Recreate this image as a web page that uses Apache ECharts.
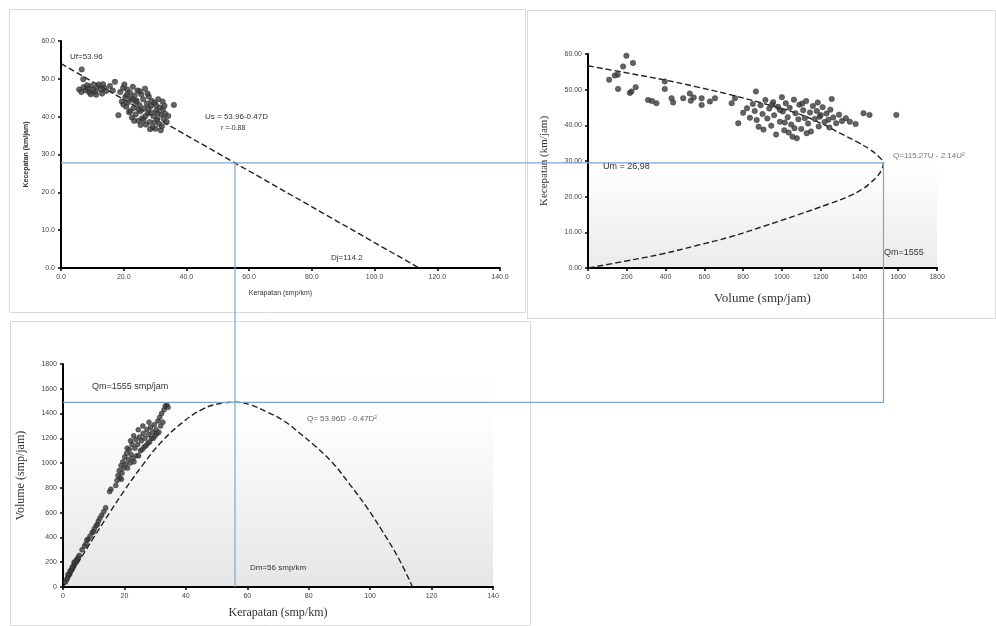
<!DOCTYPE html>
<html><head><meta charset="utf-8">
<script src="https://cdn.jsdelivr.net/npm/echarts@6/dist/echarts.min.js"></script>
<style>html,body{margin:0;padding:0;background:#fff}#c{width:996px;height:626px}</style>
</head><body><div id="c"></div><script>
// ---- Panel 1: Kerapatan (D) vs Kecepatan (U) ----
const p1Points = [
 [6.6,52.5],[7.1,49.9],[5.8,47.2],[6.5,46.5],[7.2,47.8],[8.0,46.9],[8.6,47.5],[9.1,46.4],[9.8,48.2],[10.3,47.1],
 [10.9,46.6],[11.5,47.9],[12.0,48.5],[12.6,47.2],[13.1,46.1],[13.8,47.6],[14.4,46.8],[15.6,48.1],[17.2,49.2],[16.5,46.9],
 [8.3,48.3],[11.2,45.8],[13.4,48.6],[9.5,45.9],
 [18.3,40.4],[18.9,46.5],[19.4,44.0],[19.8,47.6],[20.2,48.5],[20.5,45.2],[20.8,42.6],[21.1,47.2],[21.4,43.8],[21.7,41.2],
 [22.0,46.4],[22.3,44.9],[22.6,39.8],[22.9,47.9],[23.2,42.3],[23.5,45.6],[23.8,40.6],[24.1,44.2],[24.4,46.9],[24.7,38.9],
 [25.0,43.1],[25.3,41.4],[25.6,45.9],[25.9,39.6],[26.2,44.6],[26.5,42.2],[26.8,47.4],[27.1,37.9],[27.4,43.5],[27.7,40.9],
 [28.0,45.3],[28.3,38.6],[28.6,42.8],[28.9,44.2],[29.2,37.2],[29.5,40.1],[29.8,43.7],[30.1,36.8],[30.4,41.6],[30.7,39.3],
 [31.0,44.6],[31.3,38.1],[31.6,42.4],[31.9,40.5],[32.2,37.5],[32.5,41.9],[32.8,39.4],[33.2,40.8],[33.7,38.6],[34.2,40.2],
 [36.0,43.1],[22.1,41.5],[23.9,43.9],[25.4,37.8],[26.9,40.1],[27.6,46.1],[28.8,41.1],[30.3,43.0],[21.0,45.8],[24.8,41.9],
 [26.3,39.1],[29.9,38.5],[31.8,36.4],[19.9,43.2],[22.8,44.5],[25.1,46.7],[27.9,42.1],[30.8,40.9],[33.0,42.9],[28.4,36.7],
 [23.3,38.9],[32.4,44.0]
];
const p1Line = [[0,54.0],[114.2,0]];
const p1XTicks = {min:0, max:140, interval:20};
const p1YTicks = {min:0, max:60, interval:10};

// ---- Panel 2: Volume (Q) vs Kecepatan (U) ----
const p2Points = [
 [198,59.5],[232,57.5],[181,56.5],[153,54.2],[138,54.0],[109,52.8],[155,50.2],[216,49.1],[224,49.5],[246,50.7],
 [310,47.1],[330,46.8],[353,46.2],[396,52.3],[396,50.2],[431,47.6],[439,46.4],[491,47.6],[525,48.9],[530,46.9],
 [545,47.8],[586,47.6],[586,45.7],[629,46.7],[655,47.6],[741,46.2],[758,47.6],[866,49.5],
 [775,40.6],[800,43.5],[820,44.8],[835,42.1],[850,46.0],[860,44.0],[870,41.5],[880,39.6],[890,45.6],[900,43.2],
 [905,38.8],[915,47.1],[925,41.9],[935,44.7],[945,39.9],[955,46.5],[960,42.8],[970,37.4],[980,45.2],[990,41.0],
 [1000,47.9],[1005,43.9],[1012,38.6],[1020,46.2],[1030,42.3],[1040,44.9],[1048,40.2],[1055,36.8],[1062,47.2],[1070,43.4],
 [1077,36.4],[1085,41.7],[1090,45.8],[1100,39.0],[1110,44.2],[1118,42.0],[1125,46.8],[1135,40.5],[1145,43.6],[1150,38.3],
 [1160,45.4],[1170,41.8],[1180,44.0],[1190,39.7],[1200,42.9],[1210,45.1],[1220,40.9],[1230,43.3],[1240,41.6],[1250,44.4],
 [1257,47.4],[1265,42.2],[1280,40.6],[1295,43.0],[1310,41.2],[1330,42.0],[1350,41.0],[1380,40.4],[1421,43.4],[1452,42.9],
 [1590,42.9],[950,45.8],[1015,40.8],[1065,39.2],[1105,46.1],[1185,46.4],[1195,42.4],[1035,38.0],[1128,37.8],[990,44.3],
 [1245,39.4]
];
const p2Curve = [
 [0,56.7],[190,54.8],[387,52.8],[560,50.8],[732,48.6],[900,46.2],[1077,43.4],[1200,40.6],[1300,37.8],[1390,35.3],
 [1455,33.2],[1500,31.2],[1524,29.5],[1515,27.6],[1490,25.6],[1455,23.8],[1421,22.3],[1340,20.0],[1249,18.1],[1077,14.8],
 [900,11.6],[732,8.7],[560,6.3],[387,4.0],[190,1.9],[0,0]
];
const p2XTicks = {min:0, max:1800, interval:200};
const p2YTicks = {min:0, max:60, interval:10};

// ---- Panel 3: Kerapatan (D) vs Volume (Q) ----
const p3Points = [
 [0.8,40],[1.2,60],[1.5,75],[1.9,95],[2.2,105],[2.5,125],[2.8,140],[3.1,150],[3.4,170],[3.7,180],
 [4.0,195],[4.3,215],[4.6,225],[5.0,240],[1.6,100],[2.3,130],[3.0,160],[3.6,200],[4.4,205],[5.3,255],
 [6.2,300],[7.0,330],[7.5,350],[8.2,385],[8.8,410],[9.5,440],[10.2,470],[10.8,495],[11.5,530],[12.0,555],
 [12.6,580],[13.3,610],[13.9,640],[7.8,380],[9.9,445],[11.2,505],[15.2,770],[15.6,790],
 [17.2,820],[17.6,860],[17.9,900],[18.3,940],[18.6,880],[18.9,980],[19.2,920],[19.5,1010],[19.8,960],[20.1,1050],
 [20.4,990],[20.7,1080],[21.0,960],[21.3,1030],[21.6,1110],[21.9,1000],[22.2,1070],[22.5,1150],[22.8,1040],[23.1,1010],
 [23.4,1120],[23.7,1190],[24.0,1060],[24.3,1150],[24.6,1060],[24.9,1210],[25.2,1100],[25.5,1180],[25.8,1110],[26.1,1240],
 [26.4,1130],[26.7,1200],[27.0,1140],[27.3,1270],[27.6,1160],[27.9,1230],[28.2,1170],[28.5,1290],[28.8,1200],[29.1,1250],
 [29.4,1200],[29.7,1310],[30.0,1220],[30.3,1270],[30.6,1240],[30.9,1340],[31.2,1250],[31.5,1370],[31.8,1300],[32.1,1400],
 [32.5,1330],[32.9,1430],[33.3,1460],[33.8,1470],[34.2,1450],[19.0,870],[20.9,1120],[22.0,1180],[23.0,1220],[24.5,1270],
 [26.0,1300],[28.0,1330]
];
const p3Curve = [
 [0,0],[5,200],[10,400],[15.2,600],[20,780],[26.1,990],[32,1170],[39,1330],[45,1430],[50,1475],
 [56,1492],[61,1470],[66.2,1416],[72,1340],[77.1,1241],[82,1140],[87.9,999],[93,840],[98.8,647],[104,450],
 [109.6,216],[113.8,0]
];
const p3XTicks = {min:0, max:140, interval:20};
const p3YTicks = {min:0, max:1800, interval:200};

// connector values
const connD1 = 55.5, connU1 = 27.8;   // panel 1 crossing
const connQ2 = 1524, connU2 = 29.5;   // panel 2 maximum
const connQ3 = 1490;                  // panel 3 maximum

const chart = echarts.init(document.getElementById('c'));
const sans = 'Liberation Sans, Arial, sans-serif';
const serif = 'Liberation Serif, Times New Roman, serif';

function axis(grid, t, fmt, name, nameGap, nameFont, nameSize, bold) {
  return {
    type: 'value', gridIndex: grid, min: t.min, max: t.max, interval: t.interval,
    name: name, nameLocation: 'middle', nameGap: nameGap,
    nameTextStyle: {fontFamily: nameFont, fontSize: nameSize, color: '#333', fontWeight: bold ? 'bold' : 'normal'},
    axisLine: {show: true, onZero: false, lineStyle: {color: '#000', width: 2}},
    axisTick: {show: true, length: 3, lineStyle: {color: '#000', width: 1.5}},
    axisLabel: {fontSize: 7, color: '#444', fontFamily: sans, margin: 6, formatter: fmt},
    splitLine: {show: false}
  };
}
const f1 = v => v.toFixed(1);
const f2 = v => v.toFixed(2);
const f0 = v => String(v);

const grad2 = new echarts.graphic.LinearGradient(0,0,0,1,[
  {offset:0,color:'#ffffff'},{offset:0.5,color:'#ffffff'},{offset:1,color:'#ebebeb'}]);
const grad3 = new echarts.graphic.LinearGradient(0,0,0,1,[
  {offset:0,color:'#ffffff'},{offset:0.3,color:'#fcfcfc'},{offset:1,color:'#e6e6e6'}]);

const dotStyle = {color: '#3d3d3d', borderColor: '#222', borderWidth: 0.5};
const dash = {color: '#222', width: 1.4, type: [6, 3]};

chart.setOption({
  animation: false,
  backgroundColor: '#fff',
  grid: [
    {left: 61, top: 41, width: 439, height: 227},
    {left: 588, top: 54, width: 349, height: 214, show: true, borderWidth: 0, backgroundColor: grad2},
    {left: 63, top: 364, width: 430, height: 223, show: true, borderWidth: 0, backgroundColor: grad3}
  ],
  xAxis: [
    axis(0, p1XTicks, f1, 'Kerapatan (smp/km)', 22, sans, 7),
    axis(1, p2XTicks, f0, 'Volume (smp/jam)', 24, serif, 13),
    axis(2, p3XTicks, f0, 'Kerapatan (smp/km)', 20, serif, 12)
  ],
  yAxis: [
    axis(0, p1YTicks, f1, 'Kecepatan (km/jam)', 31, sans, 7, true),
    axis(1, p2YTicks, f2, 'Kecepatan (km/jam)', 38, serif, 11),
    axis(2, p3YTicks, f0, 'Volume (smp/jam)', 36, serif, 12)
  ],
  series: [
    {type: 'line', xAxisIndex: 0, yAxisIndex: 0, data: p1Line, symbol: 'none', lineStyle: dash, z: 3},
    {type: 'scatter', xAxisIndex: 0, yAxisIndex: 0, data: p1Points, symbolSize: 5.5, itemStyle: dotStyle, z: 4},
    {type: 'line', xAxisIndex: 1, yAxisIndex: 1, data: p2Curve, symbol: 'none', smooth: 0.4, lineStyle: dash, z: 3},
    {type: 'scatter', xAxisIndex: 1, yAxisIndex: 1, data: p2Points, symbolSize: 5.5, itemStyle: dotStyle, z: 4},
    {type: 'line', xAxisIndex: 2, yAxisIndex: 2, data: p3Curve, symbol: 'none', smooth: 0.4, lineStyle: dash, z: 3},
    {type: 'scatter', xAxisIndex: 2, yAxisIndex: 2, data: p3Points, symbolSize: 5, itemStyle: dotStyle, z: 4}
  ]
});

const px = (g, v) => chart.convertToPixel({gridIndex: g}, v);
const a1 = px(0, [connD1, connU1]);
const o1 = px(0, [0, 0]);
const a2 = px(1, [connQ2, connU2]);
const o3 = px(2, [0, 0]);
const a3 = px(2, [0, connQ3]);
const h1y = a1[1], v1x = a1[0], v2x = a2[0], h2y = a3[1];
const blue = {stroke: '#7fa6c8', lineWidth: 1.2};

function txt(x, y, s, size, color, font) {
  return {type: 'text', x: x, y: y, z: 20, style: {text: s, fontSize: size, fill: color || '#333', fontFamily: font || sans, verticalAlign: 'middle'}};
}
function box(x1, y1, x2, y2) {
  return {type: 'rect', z: 0, shape: {x: x1 + 0.5, y: y1 + 0.5, width: x2 - x1, height: y2 - y1}, style: {fill: 'none', stroke: '#dadada', lineWidth: 1}};
}

chart.setOption({
  graphic: [
    box(9, 9, 525, 312),
    box(527, 10, 995, 318),
    box(10, 321, 530, 625),
    {type: 'line', z: 15, shape: {x1: o1[0], y1: h1y, x2: v2x, y2: h1y}, style: blue},
    {type: 'line', z: 15, shape: {x1: v1x, y1: h1y, x2: v1x, y2: o3[1]}, style: blue},
    {type: 'line', z: 15, shape: {x1: o3[0], y1: h2y, x2: v2x, y2: h2y}, style: blue},
    {type: 'line', z: 15, shape: {x1: v2x, y1: h1y, x2: v2x, y2: h2y}, style: blue},
    txt(70, 57, 'Uf=53.96', 8, '#333'),
    txt(205, 117, 'Us = 53.96-0.47D', 8, '#333'),
    txt(221, 128, 'r =-0.88', 7, '#333'),
    txt(331, 258, 'Dj=114.2', 8, '#333'),
    txt(603, 167, 'Um = 26,98', 9, '#333'),
    txt(893, 156, 'Q=115.27U - 2.14U²', 8, '#777'),
    txt(884, 253, 'Qm=1555', 9, '#333'),
    txt(92, 387, 'Qm=1555 smp/jam', 9, '#333'),
    txt(307, 419, 'Q= 53.96D - 0.47D²', 8, '#666'),
    txt(250, 568, 'Dm=56 smp/km', 8, '#333')
  ]
});
</script></body></html>
